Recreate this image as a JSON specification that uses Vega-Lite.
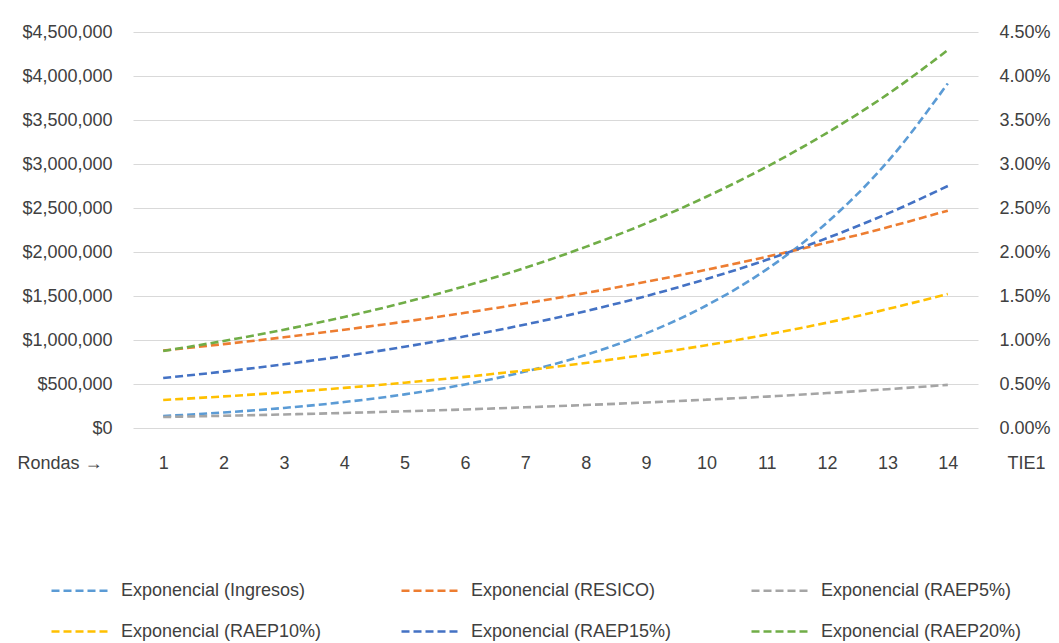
{
  "$schema": "https://vega.github.io/schema/vega-lite/v6.json",
  "width": 845,
  "height": 396,
  "autosize": {"type": "none"},
  "padding": {"left": 133, "top": 32, "right": 81, "bottom": 215},
  "background": "white",
  "config": {
    "view": {"stroke": null},
    "font": "Liberation Sans",
    "axis": {"labelFont": "Liberation Sans", "labelFontSize": 18, "labelColor": "#404040", "titleFont": "Liberation Sans", "titleFontSize": 18, "titleColor": "#404040", "titleFontWeight": "normal", "labelOverlap": false}
  },
  "data": {
    "values": [
      {"ronda": 1, "serie": "Exponencial (Ingresos)", "valor": 136000},
      {"ronda": 2, "serie": "Exponencial (Ingresos)", "valor": 176000},
      {"ronda": 3, "serie": "Exponencial (Ingresos)", "valor": 228000},
      {"ronda": 4, "serie": "Exponencial (Ingresos)", "valor": 295000},
      {"ronda": 5, "serie": "Exponencial (Ingresos)", "valor": 382000},
      {"ronda": 6, "serie": "Exponencial (Ingresos)", "valor": 495000},
      {"ronda": 7, "serie": "Exponencial (Ingresos)", "valor": 641000},
      {"ronda": 8, "serie": "Exponencial (Ingresos)", "valor": 830000},
      {"ronda": 9, "serie": "Exponencial (Ingresos)", "valor": 1075000},
      {"ronda": 10, "serie": "Exponencial (Ingresos)", "valor": 1392000},
      {"ronda": 11, "serie": "Exponencial (Ingresos)", "valor": 1803000},
      {"ronda": 12, "serie": "Exponencial (Ingresos)", "valor": 2335000},
      {"ronda": 13, "serie": "Exponencial (Ingresos)", "valor": 3024000},
      {"ronda": 14, "serie": "Exponencial (Ingresos)", "valor": 3916000},
      {"ronda": 1, "serie": "Exponencial (RESICO)", "valor": 880000},
      {"ronda": 2, "serie": "Exponencial (RESICO)", "valor": 953000},
      {"ronda": 3, "serie": "Exponencial (RESICO)", "valor": 1031000},
      {"ronda": 4, "serie": "Exponencial (RESICO)", "valor": 1117000},
      {"ronda": 5, "serie": "Exponencial (RESICO)", "valor": 1209000},
      {"ronda": 6, "serie": "Exponencial (RESICO)", "valor": 1309000},
      {"ronda": 7, "serie": "Exponencial (RESICO)", "valor": 1417000},
      {"ronda": 8, "serie": "Exponencial (RESICO)", "valor": 1534000},
      {"ronda": 9, "serie": "Exponencial (RESICO)", "valor": 1661000},
      {"ronda": 10, "serie": "Exponencial (RESICO)", "valor": 1798000},
      {"ronda": 11, "serie": "Exponencial (RESICO)", "valor": 1946000},
      {"ronda": 12, "serie": "Exponencial (RESICO)", "valor": 2107000},
      {"ronda": 13, "serie": "Exponencial (RESICO)", "valor": 2281000},
      {"ronda": 14, "serie": "Exponencial (RESICO)", "valor": 2470000},
      {"ronda": 1, "serie": "Exponencial (RAEP5%)", "valor": 125000},
      {"ronda": 2, "serie": "Exponencial (RAEP5%)", "valor": 139000},
      {"ronda": 3, "serie": "Exponencial (RAEP5%)", "valor": 154000},
      {"ronda": 4, "serie": "Exponencial (RAEP5%)", "valor": 171000},
      {"ronda": 5, "serie": "Exponencial (RAEP5%)", "valor": 190000},
      {"ronda": 6, "serie": "Exponencial (RAEP5%)", "valor": 211000},
      {"ronda": 7, "serie": "Exponencial (RAEP5%)", "valor": 235000},
      {"ronda": 8, "serie": "Exponencial (RAEP5%)", "valor": 261000},
      {"ronda": 9, "serie": "Exponencial (RAEP5%)", "valor": 290000},
      {"ronda": 10, "serie": "Exponencial (RAEP5%)", "valor": 322000},
      {"ronda": 11, "serie": "Exponencial (RAEP5%)", "valor": 357000},
      {"ronda": 12, "serie": "Exponencial (RAEP5%)", "valor": 397000},
      {"ronda": 13, "serie": "Exponencial (RAEP5%)", "valor": 441000},
      {"ronda": 14, "serie": "Exponencial (RAEP5%)", "valor": 490000},
      {"ronda": 1, "serie": "Exponencial (RAEP10%)", "valor": 318000},
      {"ronda": 2, "serie": "Exponencial (RAEP10%)", "valor": 359000},
      {"ronda": 3, "serie": "Exponencial (RAEP10%)", "valor": 404000},
      {"ronda": 4, "serie": "Exponencial (RAEP10%)", "valor": 456000},
      {"ronda": 5, "serie": "Exponencial (RAEP10%)", "valor": 515000},
      {"ronda": 6, "serie": "Exponencial (RAEP10%)", "valor": 581000},
      {"ronda": 7, "serie": "Exponencial (RAEP10%)", "valor": 655000},
      {"ronda": 8, "serie": "Exponencial (RAEP10%)", "valor": 739000},
      {"ronda": 9, "serie": "Exponencial (RAEP10%)", "valor": 834000},
      {"ronda": 10, "serie": "Exponencial (RAEP10%)", "valor": 941000},
      {"ronda": 11, "serie": "Exponencial (RAEP10%)", "valor": 1061000},
      {"ronda": 12, "serie": "Exponencial (RAEP10%)", "valor": 1197000},
      {"ronda": 13, "serie": "Exponencial (RAEP10%)", "valor": 1351000},
      {"ronda": 14, "serie": "Exponencial (RAEP10%)", "valor": 1524000},
      {"ronda": 1, "serie": "Exponencial (RAEP15%)", "valor": 568000},
      {"ronda": 2, "serie": "Exponencial (RAEP15%)", "valor": 641000},
      {"ronda": 3, "serie": "Exponencial (RAEP15%)", "valor": 724000},
      {"ronda": 4, "serie": "Exponencial (RAEP15%)", "valor": 817000},
      {"ronda": 5, "serie": "Exponencial (RAEP15%)", "valor": 923000},
      {"ronda": 6, "serie": "Exponencial (RAEP15%)", "valor": 1042000},
      {"ronda": 7, "serie": "Exponencial (RAEP15%)", "valor": 1176000},
      {"ronda": 8, "serie": "Exponencial (RAEP15%)", "valor": 1328000},
      {"ronda": 9, "serie": "Exponencial (RAEP15%)", "valor": 1499000},
      {"ronda": 10, "serie": "Exponencial (RAEP15%)", "valor": 1693000},
      {"ronda": 11, "serie": "Exponencial (RAEP15%)", "valor": 1911000},
      {"ronda": 12, "serie": "Exponencial (RAEP15%)", "valor": 2158000},
      {"ronda": 13, "serie": "Exponencial (RAEP15%)", "valor": 2436000},
      {"ronda": 14, "serie": "Exponencial (RAEP15%)", "valor": 2750000},
      {"ronda": 1, "serie": "Exponencial (RAEP20%)", "valor": 875000},
      {"ronda": 2, "serie": "Exponencial (RAEP20%)", "valor": 989000},
      {"ronda": 3, "serie": "Exponencial (RAEP20%)", "valor": 1117000},
      {"ronda": 4, "serie": "Exponencial (RAEP20%)", "valor": 1262000},
      {"ronda": 5, "serie": "Exponencial (RAEP20%)", "valor": 1426000},
      {"ronda": 6, "serie": "Exponencial (RAEP20%)", "valor": 1612000},
      {"ronda": 7, "serie": "Exponencial (RAEP20%)", "valor": 1821000},
      {"ronda": 8, "serie": "Exponencial (RAEP20%)", "valor": 2058000},
      {"ronda": 9, "serie": "Exponencial (RAEP20%)", "valor": 2325000},
      {"ronda": 10, "serie": "Exponencial (RAEP20%)", "valor": 2628000},
      {"ronda": 11, "serie": "Exponencial (RAEP20%)", "valor": 2969000},
      {"ronda": 12, "serie": "Exponencial (RAEP20%)", "valor": 3355000},
      {"ronda": 13, "serie": "Exponencial (RAEP20%)", "valor": 3791000},
      {"ronda": 14, "serie": "Exponencial (RAEP20%)", "valor": 4295000}
    ]
  },
  "encoding": {
    "x": {
      "field": "ronda", "type": "ordinal",
      "scale": {"type": "point", "padding": 0.5},
      "axis": {
        "title": "Rondas →", "labelAngle": 0, "grid": false, "domain": false, "ticks": false,
        "labelPadding": 35, "labelBaseline": "middle",
        "titleX": -116, "titleY": 35, "titleAlign": "left", "titleAnchor": null, "titleBaseline": "middle"
      }
    }
  },
  "layer": [
    {
      "mark": {"type": "line", "strokeWidth": 2.6, "strokeDash": [8, 4], "interpolate": "monotone"},
      "encoding": {
        "y": {
          "field": "valor", "type": "quantitative",
          "scale": {"domain": [0, 4500000], "nice": false},
          "axis": {
            "title": null, "orient": "left", "format": "$,.0f", "values": [0, 500000, 1000000, 1500000, 2000000, 2500000, 3000000, 3500000, 4000000, 4500000],
            "grid": true, "gridColor": "#D9D9D9", "gridWidth": 1, "domain": false, "ticks": false, "labelPadding": 21
          }
        },
        "color": {
          "field": "serie", "type": "nominal",
          "scale": {
            "domain": ["Exponencial (Ingresos)", "Exponencial (RESICO)", "Exponencial (RAEP5%)", "Exponencial (RAEP10%)", "Exponencial (RAEP15%)", "Exponencial (RAEP20%)"],
            "range": ["#5B9BD5", "#ED7D31", "#A5A5A5", "#FFC000", "#4472C4", "#70AD47"]
          },
          "legend": {
            "title": null, "orient": "none", "legendX": -83, "legendY": 527, "columns": 3, "direction": "horizontal",
            "symbolType": "stroke", "symbolSize": 3600, "symbolStrokeWidth": 2.6, "symbolDash": [8, 4],
            "labelFont": "Liberation Sans", "labelFontSize": 18, "labelColor": "#404040", "labelOffset": 8, "labelLimit": 400,
            "columnPadding": 74, "rowPadding": -19
          }
        }
      }
    },
    {
      "mark": {"type": "line", "strokeOpacity": 0},
      "encoding": {
        "detail": {"field": "serie", "type": "nominal"},
        "y": {
          "field": "valor", "type": "quantitative",
          "scale": {"domain": [0, 4500000], "nice": false},
          "axis": {
            "title": "TIE1", "orient": "right", "values": [0, 500000, 1000000, 1500000, 2000000, 2500000, 3000000, 3500000, 4000000, 4500000],
            "labelExpr": "format(datum.value / 100000000, '.2%')",
            "grid": false, "domain": false, "ticks": false, "labelPadding": 21,
            "titleAngle": 0, "titleX": 29, "titleY": 431, "titleAlign": "left", "titleAnchor": null, "titleBaseline": "middle"
          }
        }
      }
    }
  ],
  "resolve": {"scale": {"y": "independent"}}
}
